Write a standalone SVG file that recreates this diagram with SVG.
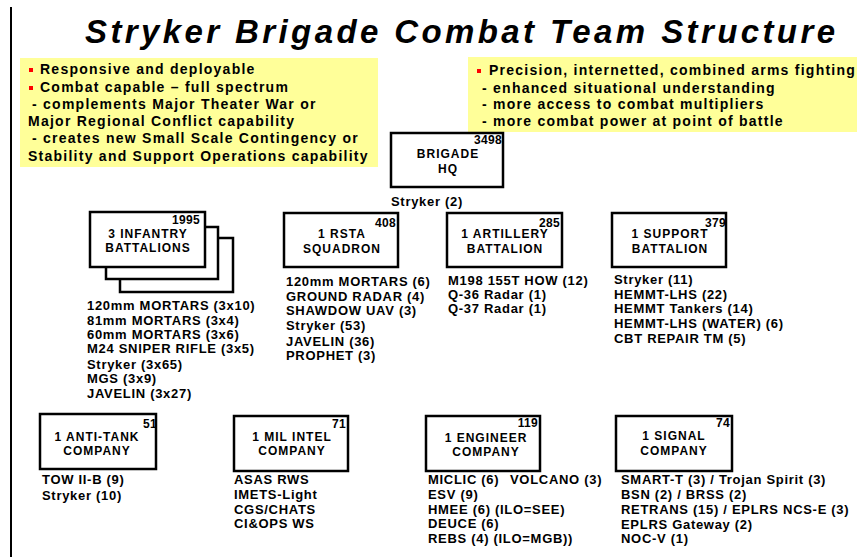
<svg xmlns="http://www.w3.org/2000/svg" width="857" height="557" viewBox="0 0 857 557">
<style>
text{font-family:"Liberation Sans",Arial,sans-serif;font-weight:bold;fill:#000}
.title{font-size:33px;font-style:italic}
.note{font-size:14px;letter-spacing:1.25px}
.box{fill:#fff;stroke:#000;stroke-width:2.5}
.num{font-size:12px;text-anchor:end;letter-spacing:0.3px}
.lbl{font-size:12px;text-anchor:middle;letter-spacing:1px}
.eq{font-size:13px;letter-spacing:0.7px}
.yel{fill:#ffff99}
.bul{fill:#ff0000}
</style>
<rect x="0" y="0" width="857" height="557" fill="#fff"/>
<line x1="11" y1="7" x2="11" y2="557" stroke="#000" stroke-width="2"/>
<text class="title" x="85" y="43" textLength="750" lengthAdjust="spacing">Stryker Brigade Combat Team Structure</text>

<g id="notes-left">
<rect class="yel" x="20" y="58" width="358" height="109"/>
<rect class="bul" x="29" y="68" width="4" height="4"/>
<text class="note" x="40" y="74">Responsive and deployable</text>
<rect class="bul" x="29" y="86" width="4" height="4"/>
<text class="note" x="40" y="92">Combat capable – full spectrum</text>
<text class="note" x="32" y="109">- complements Major Theater War or</text>
<text class="note" x="28" y="126">Major Regional Conflict capability</text>
<text class="note" x="32" y="143">- creates new Small Scale Contingency or</text>
<text class="note" x="28" y="161">Stability and Support Operations capability</text>
</g>

<g id="notes-right">
<rect class="yel" x="468" y="57" width="389" height="75"/>
<rect class="bul" x="477" y="69" width="4" height="4"/>
<text class="note" x="489" y="75">Precision, internetted, combined arms fighting</text>
<text class="note" x="482" y="93">- enhanced situational understanding</text>
<text class="note" x="482" y="109">- more access to combat multipliers</text>
<text class="note" x="482" y="126">- more combat power at point of battle</text>
</g>

<g id="brigade-hq">
<rect class="box" x="391" y="133" width="112" height="54"/>
<text class="num" x="502" y="144">3498</text>
<text class="lbl" x="448" y="158">BRIGADE</text>
<text class="lbl" x="448" y="173">HQ</text>
<text class="eq" x="391" y="206">Stryker (2)</text>
</g>

<g id="infantry">
<rect class="box" x="120" y="238" width="113" height="54"/>
<rect class="box" x="106" y="227" width="112" height="52"/>
<rect class="box" x="90" y="212" width="115" height="55"/>
<text class="num" x="200" y="224">1995</text>
<text class="lbl" x="148" y="238">3 INFANTRY</text>
<text class="lbl" x="148" y="252">BATTALIONS</text>
<text class="eq" x="87" y="310">120mm MORTARS (3x10)</text>
<text class="eq" x="87" y="325">81mm MORTARS (3x4)</text>
<text class="eq" x="87" y="339">60mm MORTARS (3x6)</text>
<text class="eq" x="87" y="353">M24 SNIPER RIFLE (3x5)</text>
<text class="eq" x="87" y="369">Stryker (3x65)</text>
<text class="eq" x="87" y="383">MGS (3x9)</text>
<text class="eq" x="87" y="398">JAVELIN (3x27)</text>
</g>

<g id="rsta">
<rect class="box" x="284" y="213" width="114" height="54"/>
<text class="num" x="396" y="227">408</text>
<text class="lbl" x="342" y="238">1 RSTA</text>
<text class="lbl" x="342" y="253">SQUADRON</text>
<text class="eq" x="286" y="286">120mm MORTARS (6)</text>
<text class="eq" x="286" y="301">GROUND RADAR (4)</text>
<text class="eq" x="286" y="315">SHAWDOW UAV (3)</text>
<text class="eq" x="286" y="330">Stryker (53)</text>
<text class="eq" x="286" y="346">JAVELIN (36)</text>
<text class="eq" x="286" y="360">PROPHET (3)</text>
</g>

<g id="artillery">
<rect class="box" x="447" y="213" width="115" height="54"/>
<text class="num" x="560" y="227">285</text>
<text class="lbl" x="505" y="238">1 ARTILLERY</text>
<text class="lbl" x="505" y="253">BATTALION</text>
<text class="eq" x="448" y="285">M198 155T HOW (12)</text>
<text class="eq" x="448" y="299">Q-36 Radar (1)</text>
<text class="eq" x="448" y="313">Q-37 Radar (1)</text>
</g>

<g id="support">
<rect class="box" x="612" y="213" width="114" height="54"/>
<text class="num" x="726" y="227">379</text>
<text class="lbl" x="670" y="238">1 SUPPORT</text>
<text class="lbl" x="670" y="253">BATTALION</text>
<text class="eq" x="614" y="284">Stryker (11)</text>
<text class="eq" x="614" y="299">HEMMT-LHS (22)</text>
<text class="eq" x="614" y="313">HEMMT Tankers (14)</text>
<text class="eq" x="614" y="328">HEMMT-LHS (WATER) (6)</text>
<text class="eq" x="614" y="343">CBT REPAIR TM (5)</text>
</g>

<g id="anti-tank">
<rect class="box" x="40" y="414" width="116" height="55"/>
<text class="num" x="157" y="428">51</text>
<text class="lbl" x="97" y="441">1 ANTI-TANK</text>
<text class="lbl" x="97" y="455">COMPANY</text>
<text class="eq" x="42" y="484">TOW II-B (9)</text>
<text class="eq" x="42" y="500">Stryker (10)</text>
</g>

<g id="mil-intel">
<rect class="box" x="234" y="416" width="114" height="55"/>
<text class="num" x="346" y="428">71</text>
<text class="lbl" x="292" y="441">1 MIL INTEL</text>
<text class="lbl" x="292" y="455">COMPANY</text>
<text class="eq" x="234" y="484">ASAS RWS</text>
<text class="eq" x="234" y="499">IMETS-Light</text>
<text class="eq" x="234" y="514">CGS/CHATS</text>
<text class="eq" x="234" y="528">CI&amp;OPS WS</text>
</g>

<g id="engineer">
<rect class="box" x="426" y="416" width="114" height="55"/>
<text class="num" x="538" y="427">119</text>
<text class="lbl" x="486" y="442">1 ENGINEER</text>
<text class="lbl" x="486" y="456">COMPANY</text>
<text class="eq" x="428" y="484">MICLIC (6)</text>
<text class="eq" x="510" y="484">VOLCANO (3)</text>
<text class="eq" x="428" y="499">ESV (9)</text>
<text class="eq" x="428" y="514">HMEE (6) (ILO=SEE)</text>
<text class="eq" x="428" y="528">DEUCE (6)</text>
<text class="eq" x="428" y="543">REBS (4) (ILO=MGB))</text>
</g>

<g id="signal">
<rect class="box" x="616" y="416" width="116" height="55"/>
<text class="num" x="730" y="427">74</text>
<text class="lbl" x="674" y="440">1 SIGNAL</text>
<text class="lbl" x="674" y="455">COMPANY</text>
<text class="eq" x="621" y="484">SMART-T (3) / Trojan Spirit (3)</text>
<text class="eq" x="621" y="499">BSN (2) / BRSS (2)</text>
<text class="eq" x="621" y="514">RETRANS (15) / EPLRS NCS-E (3)</text>
<text class="eq" x="621" y="529">EPLRS Gateway (2)</text>
<text class="eq" x="621" y="543">NOC-V (1)</text>
</g>

<g id="connectors"></g>
</svg>
